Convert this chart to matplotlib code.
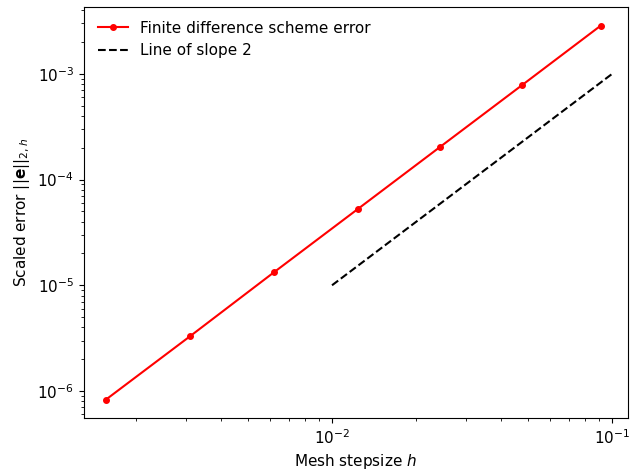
import matplotlib
matplotlib.use("Agg")
import matplotlib.pyplot as plt
import numpy as np

plt.rcParams['font.size'] = 11

# mesh sizes h = 1/(N+1)
N = [640, 320, 160, 80, 40, 20, 10]
h = [1.0 / (n + 1) for n in N]
err = [8.3e-7, 3.3e-6, 1.33e-5, 5.25e-5, 2.05e-4, 7.8e-4, 2.85e-3]

# reference slope-2 line
h_ref = [1e-2, 1e-1]
ref = [1e-5, 1e-3]

fig, ax = plt.subplots(figsize=(6.3, 4.71), dpi=100)
ax.loglog(h, err, 'r.-', ms=8, lw=1.5, label='Finite difference scheme error')
ax.loglog(h_ref, ref, 'k--', lw=1.5, label='Line of slope 2')
ax.set_xlim(1.3e-3, 0.114)
ax.set_xlabel('Mesh stepsize $h$')
ax.set_ylabel(r'Scaled error $||\mathbf{e}||_{2,h}$')
ax.legend(frameon=False, loc='upper left')
fig.subplots_adjust(left=0.133, right=0.997, top=0.985, bottom=0.112)
fig.savefig('out.png', dpi=100)
